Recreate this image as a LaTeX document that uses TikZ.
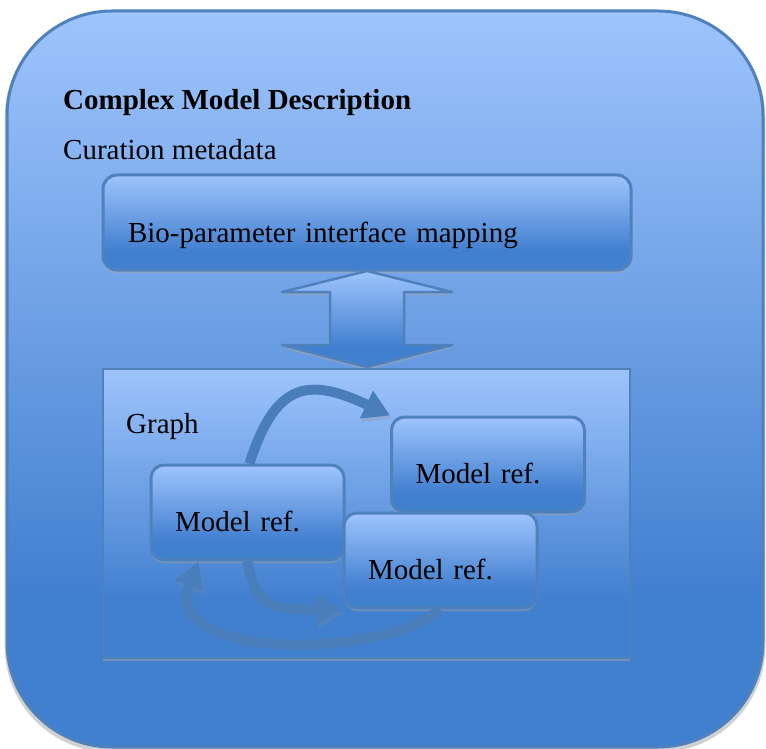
\documentclass[tikz,border=0pt]{standalone}
\usepackage{fontspec}
\setmainfont{Liberation Serif}
\usetikzlibrary{%
  arrows.meta,%
  shadows%
}

\definecolor{paneedge}{RGB}{79,129,189}
\definecolor{panelight}{RGB}{158,196,252}
\definecolor{panedark}{RGB}{65,127,207}
\definecolor{flowblue}{RGB}{74,126,187}
\pgfdeclareverticalshading{panefill}{100bp}{%
  color(0bp)=(panedark); color(35bp)=(panedark);
  color(75bp)=(panelight); color(100bp)=(panelight)}

\tikzset{
  pane/.style={shade, shading=panefill, draw=paneedge, line width=3pt},
  softshadow/.style={drop shadow={shadow xshift=0pt, shadow yshift=-3pt,
      fill=black!35, opacity=.5}},
  mref/.style={pane, softshadow, rounded corners=13pt, align=left,
    inner xsep=24pt, inner ysep=0pt, text width=145pt,
    text height=66pt, text depth=29pt},
  flow/.style={draw=flowblue, line width=10pt,
    -{Triangle[width=29pt,length=26pt]},
    preaction={draw=black!45, opacity=.25,
      transform canvas={xshift=1.5pt, yshift=-3.5pt}}}
}

\begin{document}
\begin{tikzpicture}[x=1pt, y=-1pt,
    every node/.style={font=\fontsize{29}{34}\selectfont, inner sep=0pt}]
  \useasboundingbox (0,0) rectangle (766,749);

  \node[pane, rounded corners=105pt, minimum width=756pt, minimum height=736pt,
    drop shadow={shadow xshift=0pt, shadow yshift=-3pt, shadow scale=1.006,
      fill=black!30, opacity=.6}] (outer) at (385,379) {};
  \node[anchor=base west, font=\fontsize{29}{34}\selectfont\bfseries]
    (title) at (63,110) {Complex Model Description};
  \node[anchor=base west] (curation) at (63,160) {Curation metadata};

  \node[pane, softshadow, rounded corners=14pt, align=left, inner xsep=25pt,
    inner ysep=0pt, text width=478pt, text height=67pt, text depth=28pt]
    (bio) at (367,222.5) {Bio-parameter interface mapping};

  % up and down
  \draw[pane, line width=2.5pt, line join=round, softshadow]
    (367,271) -- (452,292) -- (404,292) -- (404,345) -- (452,345)
    -- (367,367) -- (282,345) -- (330,345) -- (330,292) -- (282,292) -- cycle;

  \node[pane, line width=2.5pt, softshadow, minimum width=527pt,
    minimum height=289pt] (graph) at (366.5,513.5) {};
  \node[anchor=base west] (graphlbl) at (126,433) {Graph};

  \node[mref] (m1) at (247.5,512.5) {Model ref.};
  \node[mref] (m2) at (488,464.5) {Model ref.};
  \node[mref] (m3) at (440.5,560.5) {Model ref.};

  \draw[flow] ([xshift=2pt]m1.north) .. controls (276,380) and (310,378)
    .. (m2.north west);
  \draw[flow] (m1.south) .. controls (256,608) and (270,609) .. (m3.south west);
  \draw[flow] (m3.south) .. controls (380,660) and (160,660)
    .. ([xshift=-49pt]m1.south);
\end{tikzpicture}
\end{document}
